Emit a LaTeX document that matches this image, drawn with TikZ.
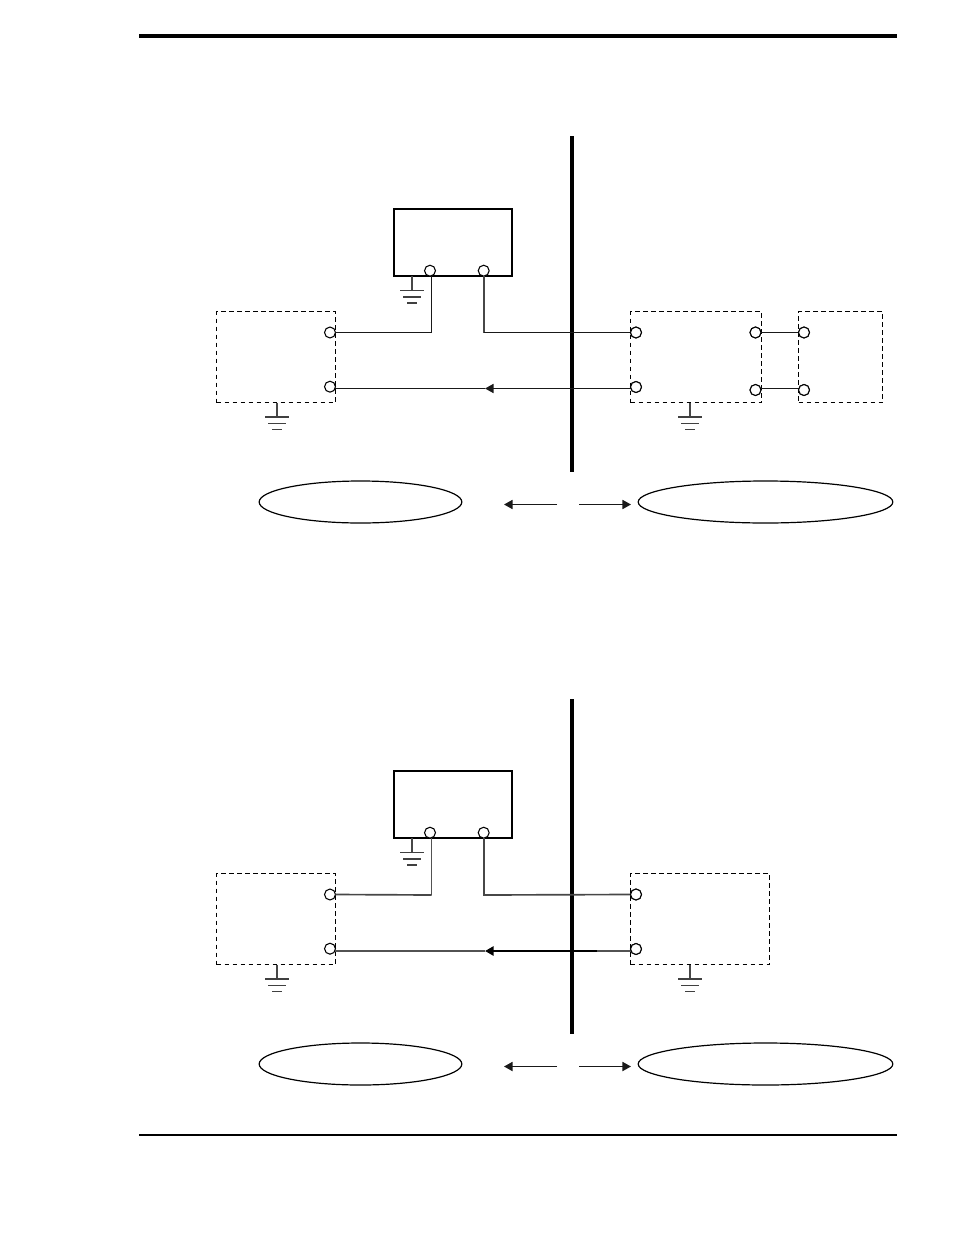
\documentclass[tikz,border=0pt]{standalone}
\usetikzlibrary{shapes.geometric,arrows.meta}
\tikzset{
  x=0.75pt,y=-0.75pt,
  wire/.style={line width=1.1pt,black!90},
  grayw/.style={line width=1.25pt,black!72},
  thinw/.style={line width=0.9pt,black!68},
  heavyw/.style={line width=1.7pt,black},
  term/.style={circle,draw=black,fill=white,line width=0.8pt,minimum size=8.2pt,inner sep=0pt,outer sep=0pt},
  dbox/.style={draw=black,line width=0.8pt,dash pattern=on 3.6pt off 2.4pt,rectangle,inner sep=0pt,outer sep=0pt,anchor=north west},
  sbox/.style={draw=black,line width=1.6pt,rectangle,inner sep=0pt,outer sep=0pt},
  oval/.style={ellipse,draw=black,line width=0.9pt,inner sep=0pt,outer sep=0pt,minimum height=31.5pt},
  bar/.style={line width=2.9pt,black},
  rulea/.style={line width=2.3pt,black},
  tip/.style={-{Triangle[length=6.4pt,width=6.8pt]}},
  gnd/.pic={
    \draw[line width=1.2pt,black!72] (0,0) -- (0,14.5);
    \draw[line width=1.1pt,black!75] (-12,14.5) -- (12,14.5);
    \draw[line width=1.3pt,black!75] (-9,21) -- (9,21);
    \draw[line width=1.3pt,black!75] (-5,27) -- (5,27);
  },
  commonpart/.pic={
    \node[sbox,minimum width=88.5pt,minimum height=50.5pt] (sb) at (453,242.5) {};
    \node[dbox,minimum width=89.25pt,minimum height=68.25pt] (dl) at (216.5,311.5) {};
    \node[term] (s1) at (430,270.7) {};
    \node[term] (s2) at (483.7,270.7) {};
    \node[term] (l1) at (330,332.5) {};
    \node[term] (l2) at (330,386.7) {};
    \node[term] (r1) at (636,332.5) {};
    \node[term] (r2) at (636,387) {};
    \node[oval,minimum width=152pt] (ol) at (360.5,502) {};
    \node[oval,minimum width=191pt] (or) at (765.5,502) {};
    \coordinate (a1) at (557,504.5);
    \coordinate (a1t) at (504,504.5);
    \coordinate (a2) at (579,504.5);
    \coordinate (a2t) at (631,504.5);
    \draw[wire,tip] (a1) -- (a1t);
    \draw[wire,tip] (a2) -- (a2t);
    \pic at (412,276) {gnd};
    \pic at (277,402.5) {gnd};
    \pic at (690,402.5) {gnd};
  }
}
\begin{document}
\begin{tikzpicture}
\useasboundingbox[fill=white] (0,0) rectangle (954,1235);
\coordinate (ra) at (139,36); \coordinate (rb) at (897,36);
\coordinate (rc) at (139,1135); \coordinate (rd) at (897,1135);
\draw[rulea] (ra) -- (rb);
\draw[line width=1.5pt] (rc) -- (rd);

% upper diagram
\coordinate (b1) at (572,136); \coordinate (b2) at (572,472);
\draw[bar] (b1) -- (b2);
\pic (t-) at (0,0) {commonpart};
\node[dbox,minimum width=98.25pt,minimum height=68.25pt] (trb) at (630.5,311.5) {};
\node[dbox,minimum width=63.2pt,minimum height=68.25pt] (tfb) at (798.5,311.5) {};
\node[term] (tp1) at (755.5,332.5) {};
\node[term] (tp2) at (755.5,390) {};
\node[term] (tq1) at (804,332.5) {};
\node[term] (tq2) at (804,390) {};
\coordinate (tj1) at (431.5,332.5);
\coordinate (tj2) at (484,332.5);
\coordinate (ta) at (485,388.5);
\draw[wire] (t-l1.east) -- (tj1) -- (t-s1.south -| tj1);
\draw[grayw] (t-s2.south -| tj2) -- (tj2);
\draw[wire] (tj2) -- (t-r1.west);
\draw[wire,tip] (t-r2.west |- ta) -- (ta);
\draw[wire] (ta) -- (t-l2.east |- ta);
\draw[wire] (tp1.east) -- (tq1.west);
\draw[wire] (tp2.east |- ta) -- (tq2.west |- ta);
\node[term] at (t-r1) {};
\node[term] at (t-r2) {};
\node[term] at (tp1) {};
\node[term] at (tp2) {};
\node[term] at (tq1) {};
\node[term] at (tq2) {};

% lower diagram
\coordinate (c1) at (572,699); \coordinate (c2) at (572,1034);
\draw[bar] (c1) -- (c2);
\begin{scope}[yshift=-421.5pt]
\pic (u-) at (0,0) {commonpart};
\end{scope}
\node[dbox,minimum width=104.5pt,minimum height=68.25pt] (urb) at (630.5,873.5) {};
\coordinate (uj1) at (431.5,895);
\coordinate (uj2) at (484,895);
\coordinate (ua) at (485,951);
\coordinate (ub) at (597,951);
\draw[thinw] (u-s1.south -| uj1) -- (uj1);
\draw[grayw] (u-l1.east) -- (uj1);
\draw[grayw] (u-s2.south -| uj2) -- (uj2) -- (u-r1.west);
\draw[thinw] (u-r2.west |- ub) -- (ub);
\draw[heavyw,tip] (ub) -- (ua);
\draw[thinw] (ua) -- (u-l2.east |- ua);
\node[term] at (u-r1) {};
\node[term] at (u-r2) {};
\end{tikzpicture}
\end{document}
